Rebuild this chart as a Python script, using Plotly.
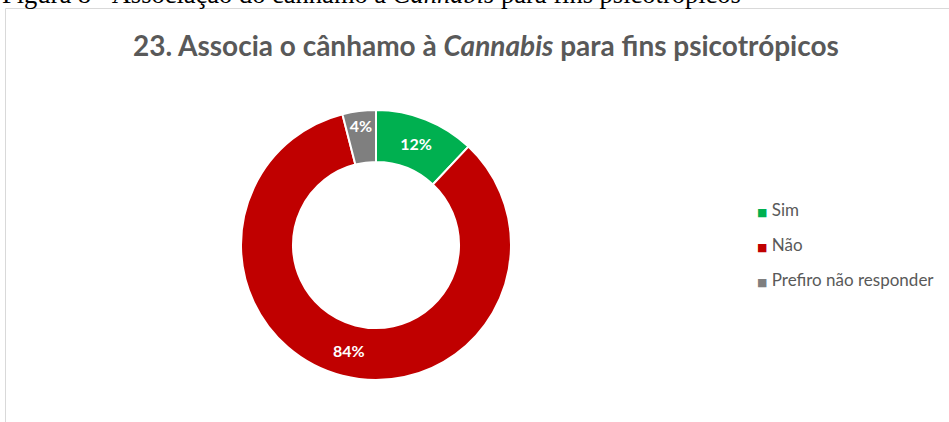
import plotly.graph_objects as go

labels = ["Sim", "Não", "Prefiro não responder"]
values = [12, 84, 4]
colors = ["#00B050", "#C00000", "#7F7F7F"]
title_text = "23. Associa o cânhamo à <i>Cannabis</i> para fins psicotrópicos"
caption_text = "Figura 8 - Associação do cânhamo à <i>Cannabis</i> para fins psicotrópicos"

W, H = 949, 422
cx, cy, R = 376, 245, 135

fig = go.Figure()
fig.add_trace(go.Pie(
    labels=labels, values=values, sort=False, direction="clockwise", rotation=0,
    hole=0.615,
    marker=dict(colors=colors, line=dict(color="white", width=2)),
    textinfo="percent", texttemplate="%{percent:.0%}", textposition="inside",
    insidetextorientation="horizontal",
    textfont=dict(family="Lato", size=16, color="white", weight="bold"),
    showlegend=False, hoverinfo="label+percent",
    domain=dict(x=[(cx - R) / W, (cx + R) / W], y=[(H - cy - R) / H, (H - cy + R) / H]),
))

legend_y = [209, 244, 279]
annotations = [
    dict(text="<b>" + title_text + "</b>", xref="paper", yref="paper",
         x=486 / W, y=1 - 45 / H, xanchor="center", yanchor="middle", showarrow=False,
         font=dict(family="Lato", size=28, color="#595959")),
    dict(text=caption_text, xref="paper", yref="paper",
         x=0, y=1 - 11 / H, xanchor="left", yanchor="bottom", showarrow=False,
         font=dict(family="Liberation Serif", size=26.5, color="black")),
]
for lab, col, ly in zip(labels, colors, legend_y):
    annotations.append(dict(
        text=f"<span style='font-family:DejaVu Sans;font-size:11px;color:{col}'>■</span> {lab}",
        xref="paper", yref="paper", x=755 / W, y=1 - ly / H,
        xanchor="left", yanchor="middle", showarrow=False,
        font=dict(family="Lato", size=17, color="#595959"),
    ))

fig.update_layout(
    width=W, height=H, margin=dict(l=0, r=0, t=0, b=0),
    paper_bgcolor="white", plot_bgcolor="white",
    showlegend=False,
    shapes=[dict(type="rect", xref="paper", yref="paper",
                 x0=5.5 / W, x1=1.01, y0=-0.01, y1=1 - 8.5 / H,
                 line=dict(color="#D9D9D9", width=1), fillcolor="rgba(0,0,0,0)", layer="below")],
    annotations=annotations,
)

fig.write_html("out.html")
